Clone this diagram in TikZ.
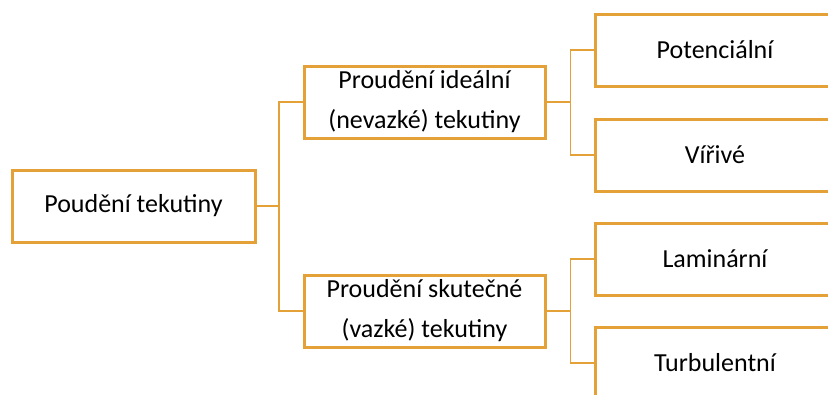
\documentclass[tikz,border=0pt]{standalone}
\usepackage{fontspec}
\setmainfont{Carlito}
\definecolor{gold}{RGB}{228,161,55}
\begin{document}
\begin{tikzpicture}[x=1pt,y=-1pt,
  box/.style={draw=gold,line width=3pt,fill=white,rectangle,minimum height=72pt,
    inner sep=0pt,align=center,font=\fontsize{26}{40}\selectfont},
  conn/.style={draw=gold,line width=1.4pt}]
\useasboundingbox (0,0) rectangle (828,394);
\clip (0,0) rectangle (828,394);
\node[box,minimum width=243pt] (L) at (133.5,206) {Poudění tekutiny};
\node[box,minimum width=241pt] (M1) at (424.5,102) {Proudění ideální\\(nevazké) tekutiny};
\node[box,minimum width=241pt] (M2) at (424.5,311) {Proudění skutečné\\(vazké) tekutiny};
\node[box,minimum width=240pt] (R1) at (715,50) {Potenciální};
\node[box,minimum width=240pt] (R2) at (715,155) {Vířivé};
\node[box,minimum width=240pt] (R3) at (715,259) {Laminární};
\node[box,minimum width=240pt] (R4) at (715,363) {Turbulentní};
\draw[conn] (L.east) -- ++(22.5,0) coordinate (j1);
\draw[conn] (j1) |- (M1.west);
\draw[conn] (j1) |- (M2.west);
\draw[conn] (M1.east) -- ++(24,0) coordinate (j2);
\draw[conn] (j2) |- (R1.west);
\draw[conn] (j2) |- (R2.west);
\draw[conn] (M2.east) -- ++(24,0) coordinate (j3);
\draw[conn] (j3) |- (R3.west);
\draw[conn] (j3) |- (R4.west);
\end{tikzpicture}
\end{document}
